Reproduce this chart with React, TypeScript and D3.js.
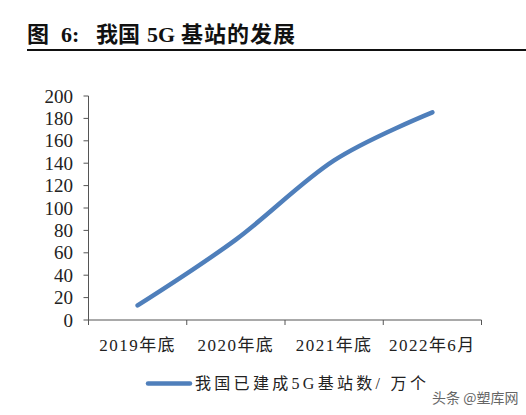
import React from "react";
import * as d3 from "d3";

const categories = ["2019年底", "2020年底", "2021年底", "2022年6月"];
const stations = [13, 71.8, 142.5, 185.4];
const yTicks = [0, 20, 40, 60, 80, 100, 120, 140, 160, 180, 200];
const titleParts = [
  { text: "图", x: 27 },
  { text: "6:", x: 61 },
  { text: "我国", x: 96 },
  { text: "5G", x: 147 },
  { text: "基站的发展", x: 181 },
];
const seriesName = "我国已建成5G基站数/ 万个";
const watermark = "头条 @塑库网";

const W = 526;
const H = 415;
const left = 88.5;
const right = 481.5;
const top = 96;
const bottom = 320;

export default function App() {
  const x = d3.scaleBand<string>().domain(categories).range([left, right]);
  const y = d3.scaleLinear().domain([0, 200]).range([bottom, top]);
  const line = d3
    .line<number>()
    .x((_, i) => (x(categories[i]) as number) + x.bandwidth() / 2)
    .y((d) => y(d))
    .curve(d3.curveCardinal.tension(0));
  const axisColor = "#555";
  const serif = "'Liberation Serif', 'Noto Sans CJK SC', serif";
  const blue = "#4f7fbb";
  return (
    <div style={{ position: "fixed", left: 0, top: 0 }}>
      <svg width={W} height={H} style={{ display: "block", background: "#fff" }}>
        {titleParts.map((p) => (
          <text key={p.text} x={p.x} y={42} fontFamily={serif} fontWeight={700} fontSize={22} letterSpacing={p.text.length > 2 ? 1 : 0} fill="#111">
            {p.text}
          </text>
        ))}
        <line x1={27} x2={W} y1={50} y2={50} stroke="#111" strokeWidth={2} />
        {/* y axis */}
        <line x1={left} x2={left} y1={top} y2={bottom} stroke={axisColor} strokeWidth={1} />
        {yTicks.map((t) => (
          <g key={t}>
            <line x1={left - 5} x2={left} y1={y(t)} y2={y(t)} stroke={axisColor} />
            <text x={73} y={y(t)} dy="0.35em" textAnchor="end" fontFamily={serif} fontSize={19} fill="#222">
              {t}
            </text>
          </g>
        ))}
        {/* x axis */}
        <line x1={left} x2={right} y1={bottom} y2={bottom} stroke={axisColor} />
        {categories.map((c) => (
          <line key={"t" + c} x1={x(c) as number} x2={x(c) as number} y1={bottom} y2={bottom + 5} stroke={axisColor} />
        ))}
        <line x1={right} x2={right} y1={bottom} y2={bottom + 5} stroke={axisColor} />
        {categories.map((c) => (
          <text key={c} x={(x(c) as number) + x.bandwidth() / 2} y={345} dy="0.35em" textAnchor="middle" fontFamily={serif} fontSize={17} letterSpacing={1.5} fill="#222">
            {c}
          </text>
        ))}
        <path d={line(stations) || ""} fill="none" stroke={blue} strokeWidth={4.5} strokeLinecap="round" />
        {/* legend */}
        <line x1={148} x2={190} y1={383.5} y2={383.5} stroke={blue} strokeWidth={4.5} strokeLinecap="round" />
        <text x={195} y={383.5} dy="0.35em" fontFamily={serif} fontSize={16} letterSpacing={3.3} fill="#222">
          {seriesName}
        </text>
        <text x={432} y={398} dy="0.35em" fontFamily="'Noto Sans CJK SC', sans-serif" fontSize={14} fill="#666">
          {watermark}
        </text>
      </svg>
    </div>
  );
}
